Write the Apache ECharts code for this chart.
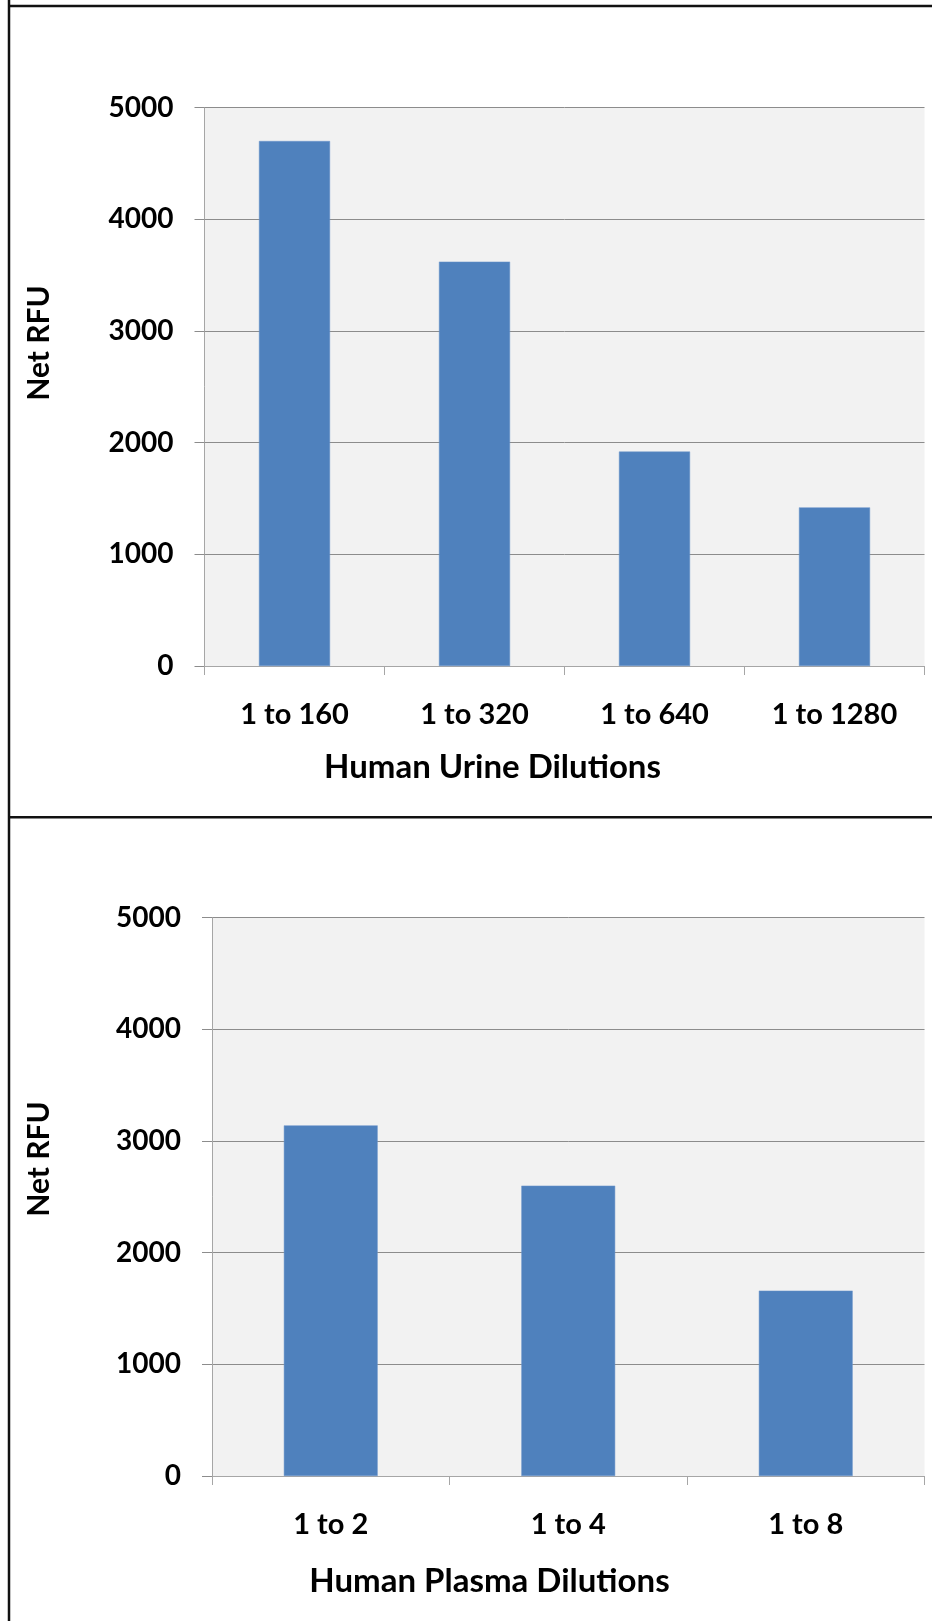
<!DOCTYPE html>
<html>
<head>
<meta charset="utf-8">
<script src="https://cdn.jsdelivr.net/npm/echarts@6/dist/echarts.min.js"></script>
<style>
html,body{margin:0;padding:0;background:#fff;}
#chart{width:932px;height:1621px;}
</style>
</head>
<body>
<div id="chart"></div>
<script>
const urineCategories = ['1 to 160', '1 to 320', '1 to 640', '1 to 1280'];
const urineValues = [4700, 3620, 1920, 1420];
const plasmaCategories = ['1 to 2', '1 to 4', '1 to 8'];
const plasmaValues = [3140, 2600, 1660];
const yMin = 0, yMax = 5000, yStep = 1000;
const yTitle = 'Net RFU';
const urineTitle = 'Human Urine Dilutions';
const plasmaTitle = 'Human Plasma Dilutions';

const FONT = 'Lato';
const barColor = '#4F81BD';
const axisColor = '#A6A6A6';
const gridColor = '#8C8C8C';

function xAxisCfg(cats, gridIndex) {
  return {
    type: 'category', gridIndex: gridIndex, data: cats,
    axisLine: {show: true, lineStyle: {color: axisColor, width: 1}},
    axisTick: {show: true, length: 9, lineStyle: {color: axisColor}},
    axisLabel: {fontFamily: FONT, fontWeight: 'bold', fontSize: 29, color: '#000', margin: 34}
  };
}
function yAxisCfg(gridIndex) {
  return {
    type: 'value', gridIndex: gridIndex, min: yMin, max: yMax, interval: yStep,
    axisLine: {show: true, lineStyle: {color: axisColor, width: 1}},
    axisTick: {show: true, length: 10, lineStyle: {color: gridColor}},
    splitLine: {show: true, lineStyle: {color: gridColor, width: 1}},
    axisLabel: {fontFamily: FONT, fontWeight: 'bold', fontSize: 28, color: '#000', margin: 31,
                formatter: function (v) { return String(v); }}
  };
}

const chart = echarts.init(document.getElementById('chart'), null, {renderer: 'canvas'});
const titleStyle = {fontFamily: FONT, fontWeight: 'bold', fill: '#000', textAlign: 'center', textVerticalAlign: 'middle'};
chart.setOption({
  animation: false,
  backgroundColor: '#fff',
  grid: [
    {left: 204.5, top: 107.5, width: 720, height: 558.5, show: true, backgroundColor: '#F2F2F2', borderWidth: 0, containLabel: false},
    {left: 212, top: 917.7, width: 712.5, height: 558.3, show: true, backgroundColor: '#F2F2F2', borderWidth: 0, containLabel: false}
  ],
  xAxis: [xAxisCfg(urineCategories, 0), xAxisCfg(plasmaCategories, 1)],
  yAxis: [yAxisCfg(0), yAxisCfg(1)],
  series: [
    {type: 'bar', xAxisIndex: 0, yAxisIndex: 0, data: urineValues, barWidth: '39.5%',
     itemStyle: {color: barColor, borderColor: '#6A95CB', borderWidth: 0.5}},
    {type: 'bar', xAxisIndex: 1, yAxisIndex: 1, data: plasmaValues, barWidth: '39.5%',
     itemStyle: {color: barColor, borderColor: '#6A95CB', borderWidth: 0.5}}
  ],
  graphic: [
    {type: 'line', shape: {x1: 9, y1: 0, x2: 9, y2: 1621}, style: {stroke: '#111', lineWidth: 2.5}, z: 100},
    {type: 'line', shape: {x1: 9, y1: 6, x2: 932, y2: 6}, style: {stroke: '#111', lineWidth: 2.5}, z: 100},
    {type: 'line', shape: {x1: 9, y1: 817.3, x2: 932, y2: 817.3}, style: {stroke: '#111', lineWidth: 2.5}, z: 100},
    {type: 'text', x: 492.5, y: 767, style: Object.assign({text: urineTitle, fontSize: 33}, titleStyle)},
    {type: 'text', x: 489.5, y: 1581, style: Object.assign({text: plasmaTitle, fontSize: 33}, titleStyle)},
    {type: 'text', x: 39, y: 343, rotation: Math.PI / 2, style: Object.assign({text: yTitle, fontSize: 30}, titleStyle)},
    {type: 'text', x: 39, y: 1159, rotation: Math.PI / 2, style: Object.assign({text: yTitle, fontSize: 30}, titleStyle)}
  ]
});
</script>
</body>
</html>
